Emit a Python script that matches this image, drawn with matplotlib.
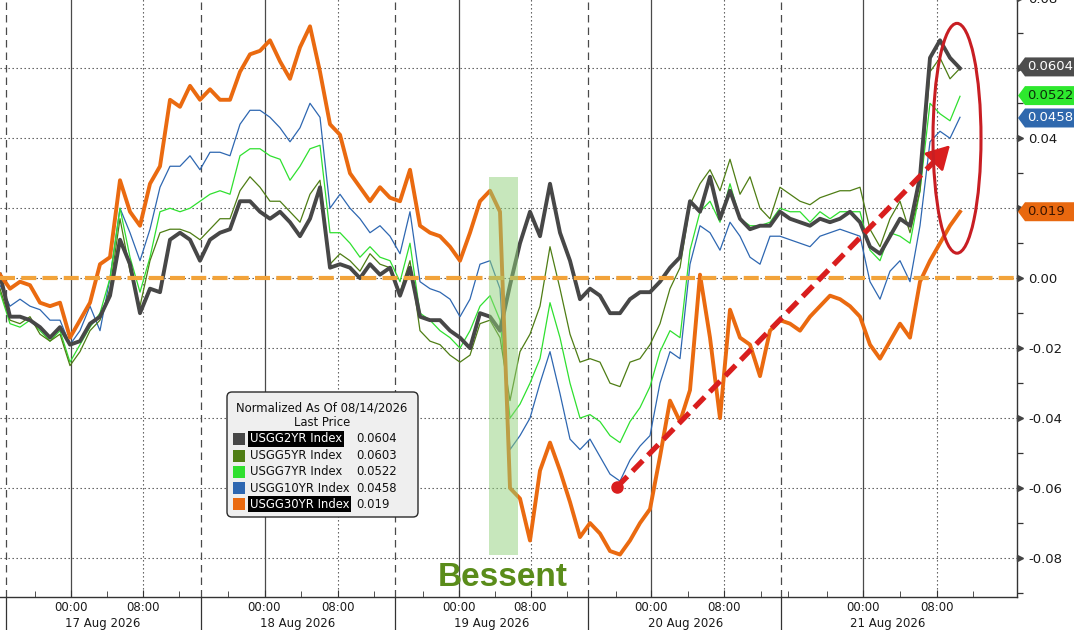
import numpy as np
import matplotlib
matplotlib.use("Agg")
import matplotlib.pyplot as plt
from matplotlib import patches, transforms

plt.rcParams['font.family'] = ['DejaVu Sans']
plt.rcParams['axes.unicode_minus'] = False

# compressed trading-time axis (Bloomberg drops the session gaps), sampled every 10 units
t = np.arange(0, 961, 10)

usgg2yr = [0.001, -0.011, -0.011, -0.012, -0.014, -0.017, -0.014, -0.019, -0.018, -0.013,
           -0.011, -0.005, 0.011, 0.004, -0.010, -0.003, -0.004, 0.011, 0.013, 0.011,
           0.005, 0.011, 0.013, 0.014, 0.022, 0.022, 0.019, 0.017, 0.019, 0.016,
           0.012, 0.017, 0.026, 0.003, 0.004, 0.003, 0.000, 0.004, 0.001, 0.003,
           -0.005, 0.003, -0.011, -0.012, -0.012, -0.015, -0.017, -0.020, -0.010, -0.011,
           -0.015, -0.002, 0.010, 0.019, 0.012, 0.027, 0.013, 0.005, -0.006, -0.003,
           -0.005, -0.010, -0.010, -0.006, -0.004, -0.004, -0.001, 0.003, 0.006, 0.022,
           0.019, 0.029, 0.017, 0.025, 0.017, 0.014, 0.015, 0.015, 0.019, 0.017,
           0.016, 0.015, 0.017, 0.016, 0.017, 0.019, 0.016, 0.009, 0.007, 0.012,
           0.017, 0.015, 0.029, 0.063, 0.068, 0.063, 0.060]
usgg5yr = [-0.003, -0.012, -0.013, -0.011, -0.016, -0.018, -0.016, -0.025, -0.021, -0.015,
           -0.012, -0.003, 0.017, 0.002, -0.008, 0.005, 0.013, 0.014, 0.014, 0.013,
           0.011, 0.014, 0.017, 0.017, 0.025, 0.029, 0.026, 0.022, 0.022, 0.019,
           0.016, 0.024, 0.028, 0.004, 0.007, 0.005, 0.002, 0.007, 0.004, 0.003,
           -0.004, 0.005, -0.015, -0.018, -0.019, -0.022, -0.024, -0.022, -0.013, -0.012,
           -0.017, -0.035, -0.021, -0.016, -0.008, 0.009, -0.003, -0.016, -0.024, -0.023,
           -0.024, -0.030, -0.031, -0.024, -0.023, -0.019, -0.013, -0.003, 0.003, 0.021,
           0.027, 0.031, 0.025, 0.034, 0.024, 0.029, 0.020, 0.017, 0.026, 0.024,
           0.022, 0.021, 0.023, 0.024, 0.025, 0.025, 0.026, 0.014, 0.009, 0.017,
           0.022, 0.013, 0.025, 0.059, 0.063, 0.057, 0.060]
usgg7yr = [-0.004, -0.013, -0.014, -0.012, -0.015, -0.018, -0.015, -0.024, -0.019, -0.014,
           -0.010, 0.000, 0.020, 0.006, -0.004, 0.006, 0.019, 0.020, 0.019, 0.020,
           0.022, 0.024, 0.025, 0.024, 0.035, 0.037, 0.037, 0.035, 0.034, 0.028,
           0.032, 0.037, 0.038, 0.013, 0.013, 0.010, 0.006, 0.009, 0.006, 0.005,
           -0.001, 0.010, -0.010, -0.012, -0.015, -0.017, -0.020, -0.015, -0.008, -0.005,
           -0.012, -0.040, -0.036, -0.030, -0.023, -0.007, -0.017, -0.030, -0.040, -0.039,
           -0.041, -0.045, -0.047, -0.041, -0.037, -0.031, -0.021, -0.015, -0.017, 0.008,
           0.019, 0.022, 0.016, 0.027, 0.017, 0.015, 0.015, 0.016, 0.020, 0.019,
           0.019, 0.016, 0.019, 0.017, 0.019, 0.019, 0.019, 0.008, 0.005, 0.013,
           0.012, 0.010, 0.025, 0.050, 0.047, 0.045, 0.052]
usgg10yr = [-0.002, -0.008, -0.006, -0.008, -0.009, -0.012, -0.012, -0.019, -0.015, -0.008,
            -0.015, 0.000, 0.020, 0.013, 0.005, 0.014, 0.026, 0.032, 0.032, 0.035,
            0.031, 0.036, 0.036, 0.035, 0.044, 0.048, 0.048, 0.046, 0.043, 0.039,
            0.043, 0.050, 0.046, 0.020, 0.024, 0.020, 0.017, 0.013, 0.015, 0.012,
            0.007, 0.019, -0.001, -0.003, -0.004, -0.006, -0.011, -0.006, 0.004, 0.005,
            -0.003, -0.049, -0.045, -0.040, -0.030, -0.021, -0.033, -0.046, -0.049, -0.046,
            -0.051, -0.056, -0.058, -0.052, -0.048, -0.045, -0.030, -0.021, -0.023, 0.004,
            0.015, 0.013, 0.008, 0.016, 0.012, 0.006, 0.004, 0.012, 0.012, 0.011,
            0.010, 0.009, 0.012, 0.013, 0.014, 0.013, 0.012, -0.001, -0.006, 0.002,
            0.005, -0.001, 0.015, 0.039, 0.042, 0.040, 0.046]
usgg30yr = [0.001, -0.003, -0.001, -0.002, -0.007, -0.008, -0.007, -0.017, -0.012, -0.007,
            0.004, 0.006, 0.028, 0.019, 0.015, 0.027, 0.032, 0.051, 0.049, 0.055,
            0.051, 0.054, 0.051, 0.051, 0.059, 0.064, 0.065, 0.068, 0.062, 0.057,
            0.066, 0.072, 0.059, 0.044, 0.041, 0.030, 0.026, 0.022, 0.026, 0.023,
            0.022, 0.031, 0.015, 0.013, 0.012, 0.009, 0.005, 0.013, 0.022, 0.025,
            0.019, -0.060, -0.063, -0.075, -0.055, -0.047, -0.055, -0.064, -0.074, -0.070,
            -0.073, -0.078, -0.079, -0.075, -0.070, -0.066, -0.051, -0.035, -0.041, -0.032,
            0.001, -0.017, -0.040, -0.009, -0.017, -0.019, -0.028, -0.015, -0.012, -0.013,
            -0.015, -0.011, -0.008, -0.005, -0.006, -0.008, -0.011, -0.019, -0.023, -0.018,
            -0.013, -0.017, -0.001, 0.005, 0.010, 0.015, 0.019]

names = ['USGG2YR Index', 'USGG5YR Index', 'USGG7YR Index', 'USGG10YR Index', 'USGG30YR Index']
last_price = ['0.0604', '0.0603', '0.0522', '0.0458', '0.019']
colors = ['#474747', '#4e7d14', '#2fe02f', '#2e67b1', '#ea6a10']

# axis positions on the compressed time scale
midnights = [70.6, 264.5, 458.7, 651, 863]
eights = [142.6, 337.5, 530.5, 724, 937]
day_breaks = [6, 200.8, 394.6, 588, 781]
four_hours = [34.5, 106.6, 178.6, 228, 300.5, 373.5, 422.5, 494.6, 566.6,
              616, 688, 761, 788, 827, 900, 973]
day_labels = ['17 Aug 2026', '18 Aug 2026', '19 Aug 2026', '20 Aug 2026', '21 Aug 2026']
day_label_pos = [103, 298, 492, 686, 888]

W, H = 1074, 630
fig = plt.figure(figsize=(W / 100, H / 100), dpi=100)
ax = fig.add_axes([0, 33 / H, 1017 / W, 599 / H])
ax.set_xlim(0, 1017)
ax.set_ylim(-0.09114, 0.0801)

grid_c = '#4a4a4a'
for v in np.arange(-0.08, 0.061, 0.02):
    ax.axhline(v, color=grid_c, lw=0.8, ls=(0, (1.2, 2.4)), zorder=0)
for x in midnights:
    ax.axvline(x, color=grid_c, lw=0.9, zorder=0)
for x in eights:
    ax.axvline(x, color=grid_c, lw=0.8, ls=(0, (1.2, 2.4)), zorder=0)
below = transforms.blended_transform_factory(ax.transData, ax.transAxes)
for x in day_breaks:
    ax.axvline(x, color=grid_c, lw=0.9, ls=(0, (6, 4)), zorder=0)
    ax.plot([x, x], [-33 / 599, 0], color='#333333', lw=0.9, transform=below, clip_on=False)

# series
ax.plot(t, usgg10yr, color=colors[3], lw=0.9, zorder=2)
ax.plot(t, usgg7yr, color=colors[2], lw=0.9, zorder=2)
ax.plot(t, usgg5yr, color=colors[1], lw=0.9, zorder=2)
ax.plot(t, usgg2yr, color=colors[0], lw=2.8, zorder=3)
ax.plot(t, usgg30yr, color=colors[4], lw=2.8, zorder=3)

ax.axhline(0, color='#f2a33a', lw=3.0, ls=(0, (3.6, 1.5)), zorder=4)

# Bessent window
ax.add_patch(patches.Rectangle((489, -0.079), 29, 0.108, facecolor='#91d17b',
                               edgecolor='none', alpha=0.5, zorder=5))

# red arrow + circle
red = '#d91e1e'
start = np.array([617, -0.0597])
end = np.array([950, 0.038])
base = start + 0.955 * (end - start)
ax.plot([start[0], base[0]], [start[1], base[1]], color=red, lw=3.8,
        ls=(0, (2.8, 1.4)), zorder=6, solid_capstyle='butt')
ax.plot(start[0], start[1], 'o', ms=8, color=red, zorder=6)
ax.annotate('', xy=end, xytext=base, zorder=6,
            arrowprops=dict(arrowstyle='-|>,head_length=0.8,head_width=0.45',
                            mutation_scale=18, color=red, lw=2, shrinkA=0, shrinkB=0))
ax.add_patch(patches.Ellipse((957, 0.040), 48, 0.0657, fill=False,
                             edgecolor='#c81e23', lw=2.2, zorder=6))

# axes styling
for s in ['top', 'left']:
    ax.spines[s].set_visible(False)
for s in ['right', 'bottom']:
    ax.spines[s].set_color('#333333')
    ax.spines[s].set_linewidth(1.0)

yt = [0.08, 0.06, 0.04, 0.02, 0.0, -0.02, -0.04, -0.06, -0.08]
ax.yaxis.tick_right()
ax.set_yticks(yt)
# 0.06 and 0.02 sit under the last-price tags
ax.set_yticklabels(['' if v in (0.06, 0.02) else '%.2f' % v for v in yt])
ax.set_yticks(np.arange(-0.09, 0.08, 0.02), minor=True)
ax.tick_params(axis='y', which='major', length=0, pad=8, labelsize=9.5, labelcolor='#1a1a1a')
ax.tick_params(axis='y', which='minor', length=4, width=0.9, color='#333333')
ytrans = transforms.blended_transform_factory(ax.transAxes, ax.transData)
ax.plot([1 + 3.5 / 1017] * len(yt), yt, ls='none', marker='>', ms=5, color='#444444',
        transform=ytrans, clip_on=False, zorder=7)

xt = midnights + eights
ax.set_xticks(xt)
ax.set_xticklabels(['00:00'] * len(midnights) + ['08:00'] * len(eights))
ax.set_xticks(four_hours, minor=True)
ax.tick_params(axis='x', which='major', direction='in', length=5, pad=3,
               labelsize=8.5, labelcolor='#1a1a1a', color='#333333')
ax.tick_params(axis='x', which='minor', direction='in', length=4, color='#333333')
for x, lab in zip(day_label_pos, day_labels):
    ax.text(x, -26 / 599, lab, transform=below, ha='center', va='center',
            fontsize=8.5, color='#1a1a1a')

# last-price tags on the right axis
tag_fc = ['#4d4d4d', '#2ee82e', '#2f68ad', '#e8680f']
tag_tc = ['white', '#0b2e0b', 'white', '#3a1500']
tag_vals = [0.0604, 0.0522, 0.0458, 0.019]
tag_txt = ['0.0604', '0.0522', '0.0458', '0.019']
hh = 9.5 / 3500
for v, fc, tc, s in zip(tag_vals, tag_fc, tag_tc, tag_txt):
    x0 = 1 + 1 / 1017
    x1 = 1 + 8 / 1017
    x2 = 1 + 60 / 1017
    poly = patches.Polygon([(x0, v), (x1, v + hh), (x2, v + hh), (x2, v - hh), (x1, v - hh)],
                           closed=True, facecolor=fc, edgecolor='none',
                           transform=ytrans, clip_on=False, zorder=8)
    ax.add_patch(poly)
    ax.text(1 + 10 / 1017, v, s, transform=ytrans, ha='left', va='center',
            fontsize=9.5, color=tc, zorder=9, clip_on=False)

# legend box (Bloomberg style)
T = fig.dpi_scale_trans
def P(px, py):
    return (px / 100, (H - py) / 100)

box = patches.FancyBboxPatch(P(227, 517), 191 / 100, 125 / 100,
                             boxstyle='round,pad=0,rounding_size=0.05',
                             transform=T, facecolor='#efefef', edgecolor='#2a2a2a',
                             lw=1.0, zorder=10)
fig.add_artist(box)
fig.text(*P(322, 408), 'Normalized As Of 08/14/2026', transform=T, ha='center',
         va='center', fontsize=8.4, color='#111111', zorder=11)
fig.text(*P(322, 423), 'Last Price', transform=T, ha='center', va='center',
         fontsize=8.4, color='#111111', zorder=11)
rows = [439, 455.5, 471.5, 488, 504]
for i, (nm, lp, c) in enumerate(zip(names, last_price, colors)):
    y = rows[i]
    fig.add_artist(patches.Rectangle(P(233, y + 6), 0.12, 0.12, transform=T,
                                     facecolor=c, edgecolor='none', zorder=11))
    if i in (0, 4):
        fig.text(*P(250, y), nm, transform=T, ha='left', va='center', fontsize=8.4,
                 color='white', zorder=12,
                 bbox=dict(facecolor='black', edgecolor='none', pad=1.2))
    else:
        fig.text(*P(250, y), nm, transform=T, ha='left', va='center', fontsize=8.4,
                 color='#111111', zorder=12)
    fig.text(*P(356, y), lp, transform=T, ha='left', va='center', fontsize=8.4,
             color='#111111', zorder=12)

fig.text(*P(503, 578), 'Bessent', transform=T, ha='center', va='center',
         fontsize=24, fontweight='bold', color='#5a8c1a',
         family=['Liberation Sans', 'DejaVu Sans'], zorder=12)

fig.savefig('out.png', dpi=100, facecolor='white')
